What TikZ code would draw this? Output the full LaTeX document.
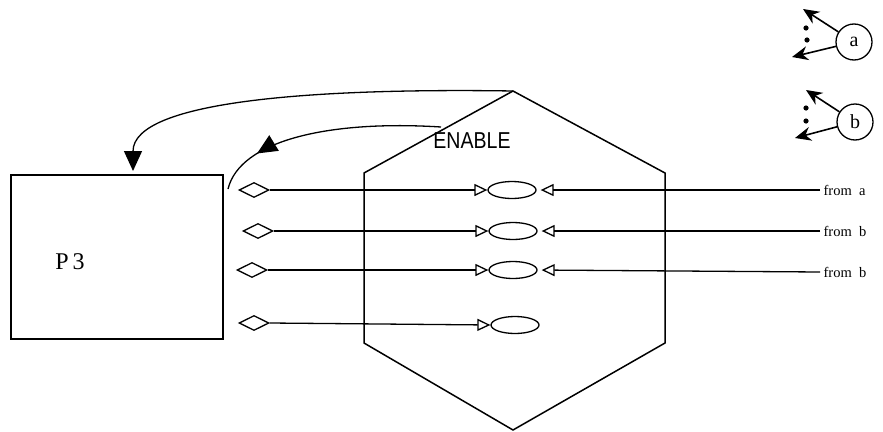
\documentclass[tikz,border=0pt]{standalone}
\usepackage{fontspec}
\setmainfont{Liberation Serif}
\newfontfamily\enablefont[FakeStretch=0.85]{Liberation Sans}
\usetikzlibrary{arrows.meta,shapes.geometric,decorations.markings}

\begin{document}
\begin{tikzpicture}[x=1pt,y=-1pt,line width=1.3pt,
  gate/.style={diamond,draw,aspect=2,inner sep=0pt,minimum width=30pt,minimum height=15pt},
  slot/.style={ellipse,draw,inner sep=0pt,minimum width=48pt,minimum height=17pt},
  feed/.style={-{Triangle[open,length=13pt,width=12pt]}},
  back/.style={-{Triangle[open,length=13pt,width=12pt]},shorten >=4pt},
  src/.style={anchor=west,inner sep=3pt,font=\fontsize{14.5}{14.5}\selectfont},
  proc/.style={circle,draw,minimum size=36pt,inner sep=0pt,font=\fontsize{20}{20}\selectfont},
  emit/.style={line width=1.6pt,-{Stealth[length=16pt,width=14pt]}}]
  \useasboundingbox (0,0) rectangle (883,431);

  % process box
  \node[draw,rectangle,minimum width=212pt,minimum height=164pt] (p3box) at (117,257) {};
  \node[font=\fontsize{24}{24}\selectfont] (p3) at (70,262) {P\,3};

  % enable hexagon
  \coordinate (hexTop) at (513,91);
  \coordinate (hexNE) at (665,173);
  \coordinate (hexSE) at (665,343);
  \coordinate (hexBot) at (513,430);
  \coordinate (hexSW) at (364,343);
  \coordinate (hexNW) at (364,173);
  \draw[line width=1.5pt] (hexTop) -- (hexNE) -- (hexSE) -- (hexBot) -- (hexSW) -- (hexNW) -- cycle;
  \node[font=\fontsize{23}{23}\selectfont\enablefont] (enable) at (472,141) {ENABLE};

  % gates and slots
  \node[gate] (d1) at (254,190) {};
  \node[gate] (d2) at (258,231) {};
  \node[gate] (d3) at (252,270) {};
  \node[gate] (d4) at (254,323) {};
  \node[slot] (e1) at (512,190) {};
  \node[slot] (e2) at (513,231) {};
  \node[slot] (e3) at (513,270) {};
  \node[slot] (e4) at (515,325) {};
  \draw[feed] (d1.east) -- (e1.west);
  \draw[feed] (d2.east) -- (e2.west);
  \draw[feed] (d3.east) -- (e3.west);
  \draw[feed] (d4.east) -- (e4.west);

  % inputs from the right
  \node[src] (fa) at (820,190) {from\ \ a};
  \node[src] (fb1) at (820,231) {from\ \ b};
  \node[src] (fb2) at (820,272) {from\ \ b};
  \draw[back] (fa.west) -- (e1.east);
  \draw[back] (fb1.west) -- (e2.east);
  \draw[back] (fb2.west) -- (e3.east);

  % feedback curves to P3
  \coordinate (p3top) at (133,171);
  \coordinate (enIn) at (441,127);
  \coordinate (p3side) at (228,189);
  \draw[-{Triangle[length=20pt,width=18pt]}] (hexTop) .. controls (320,88) and (133,100) .. (p3top);
  \draw[postaction={decorate},decoration={markings,mark=at position 0.8 with {\arrow{Triangle[length=20pt,width=18pt]}}}]
    (enIn) .. controls (330,120) and (240,140) .. (p3side);

  % legend
  \node[proc] (ca) at (854,42) {a};
  \coordinate (a1) at (803,9);
  \coordinate (a2) at (792,57);
  \draw[emit] (ca) -- (a1);
  \draw[emit] (ca) -- (a2);
  \fill (806,28) circle (2.6pt) (807,40) circle (2.6pt);

  \node[proc] (cb) at (855,122) {b};
  \coordinate (b1) at (806,90);
  \coordinate (b2) at (795,138);
  \draw[emit] (cb) -- (b1);
  \draw[emit] (cb) -- (b2);
  \fill (806,108) circle (2.6pt) (806,121) circle (2.6pt);
\end{tikzpicture}
\end{document}
